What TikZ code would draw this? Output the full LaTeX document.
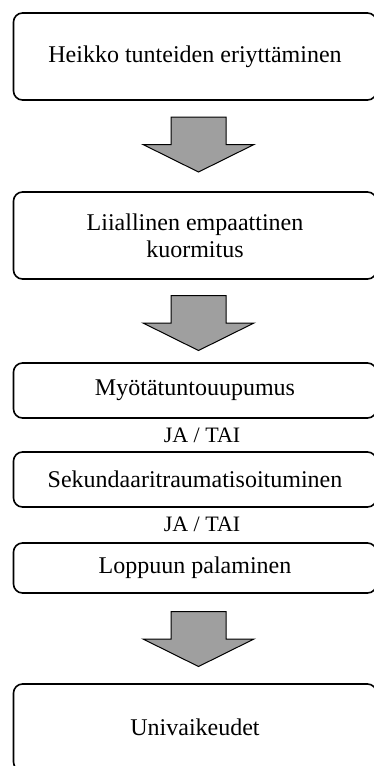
\documentclass[tikz,border=0pt]{standalone}
\usepackage{fontspec}
\setmainfont{Liberation Serif}
\tikzstyle{box} = [rectangle, rounded corners=9pt, minimum width=363pt, text centered, align=center, draw=black, line width=1.6pt, font=\fontsize{24}{27}\selectfont]
\tikzstyle{link} = [font=\fontsize{22}{26}\selectfont, inner sep=0pt]
\tikzstyle{bigarrow} = [draw=black, fill=gray!75, line width=1pt, line join=miter]
\tikzset{downarrow/.pic={
  \path[bigarrow] (-27.5,-27.5) -- (27.5,-27.5) -- (27.5,0) -- (55.5,0)
     -- (0,27.5) -- (-55.5,0) -- (-27.5,0) -- cycle;
}}

\begin{document}
\begin{tikzpicture}[x=1pt, y=-1pt]
\useasboundingbox (0,0) rectangle (374,766);
\clip (0,0) rectangle (374,766);

\node (heikko) [box, minimum height=87pt] at (195,56.5) {Heikko tunteiden eriyttäminen};
\node (kuorm) [box, minimum height=87pt] at (195,235.5) {Liiallinen empaattinen\\kuormitus};
\node (myota) [box, minimum height=55pt] at (195,390.5) {Myötätuntouupumus};
\node (sekund) [box, minimum height=55pt] at (195,479.5) {Sekundaaritraumatisoituminen};
\node (loppu) [box, minimum height=50pt] at (195,568) {Loppuun palaminen};
\node (uni) [box, minimum height=87pt] at (195,727.5) {Univaikeudet};

\node (ja1) [link] at (202,435) {JA / TAI};
\node (ja2) [link] at (202,524) {JA / TAI};

% block arrows between the boxes
\pic (arr1) at (198.5,144.5) {downarrow};
\pic (arr2) at (198.5,323) {downarrow};
\pic (arr3) at (198.5,639) {downarrow};

\end{tikzpicture}
\end{document}
